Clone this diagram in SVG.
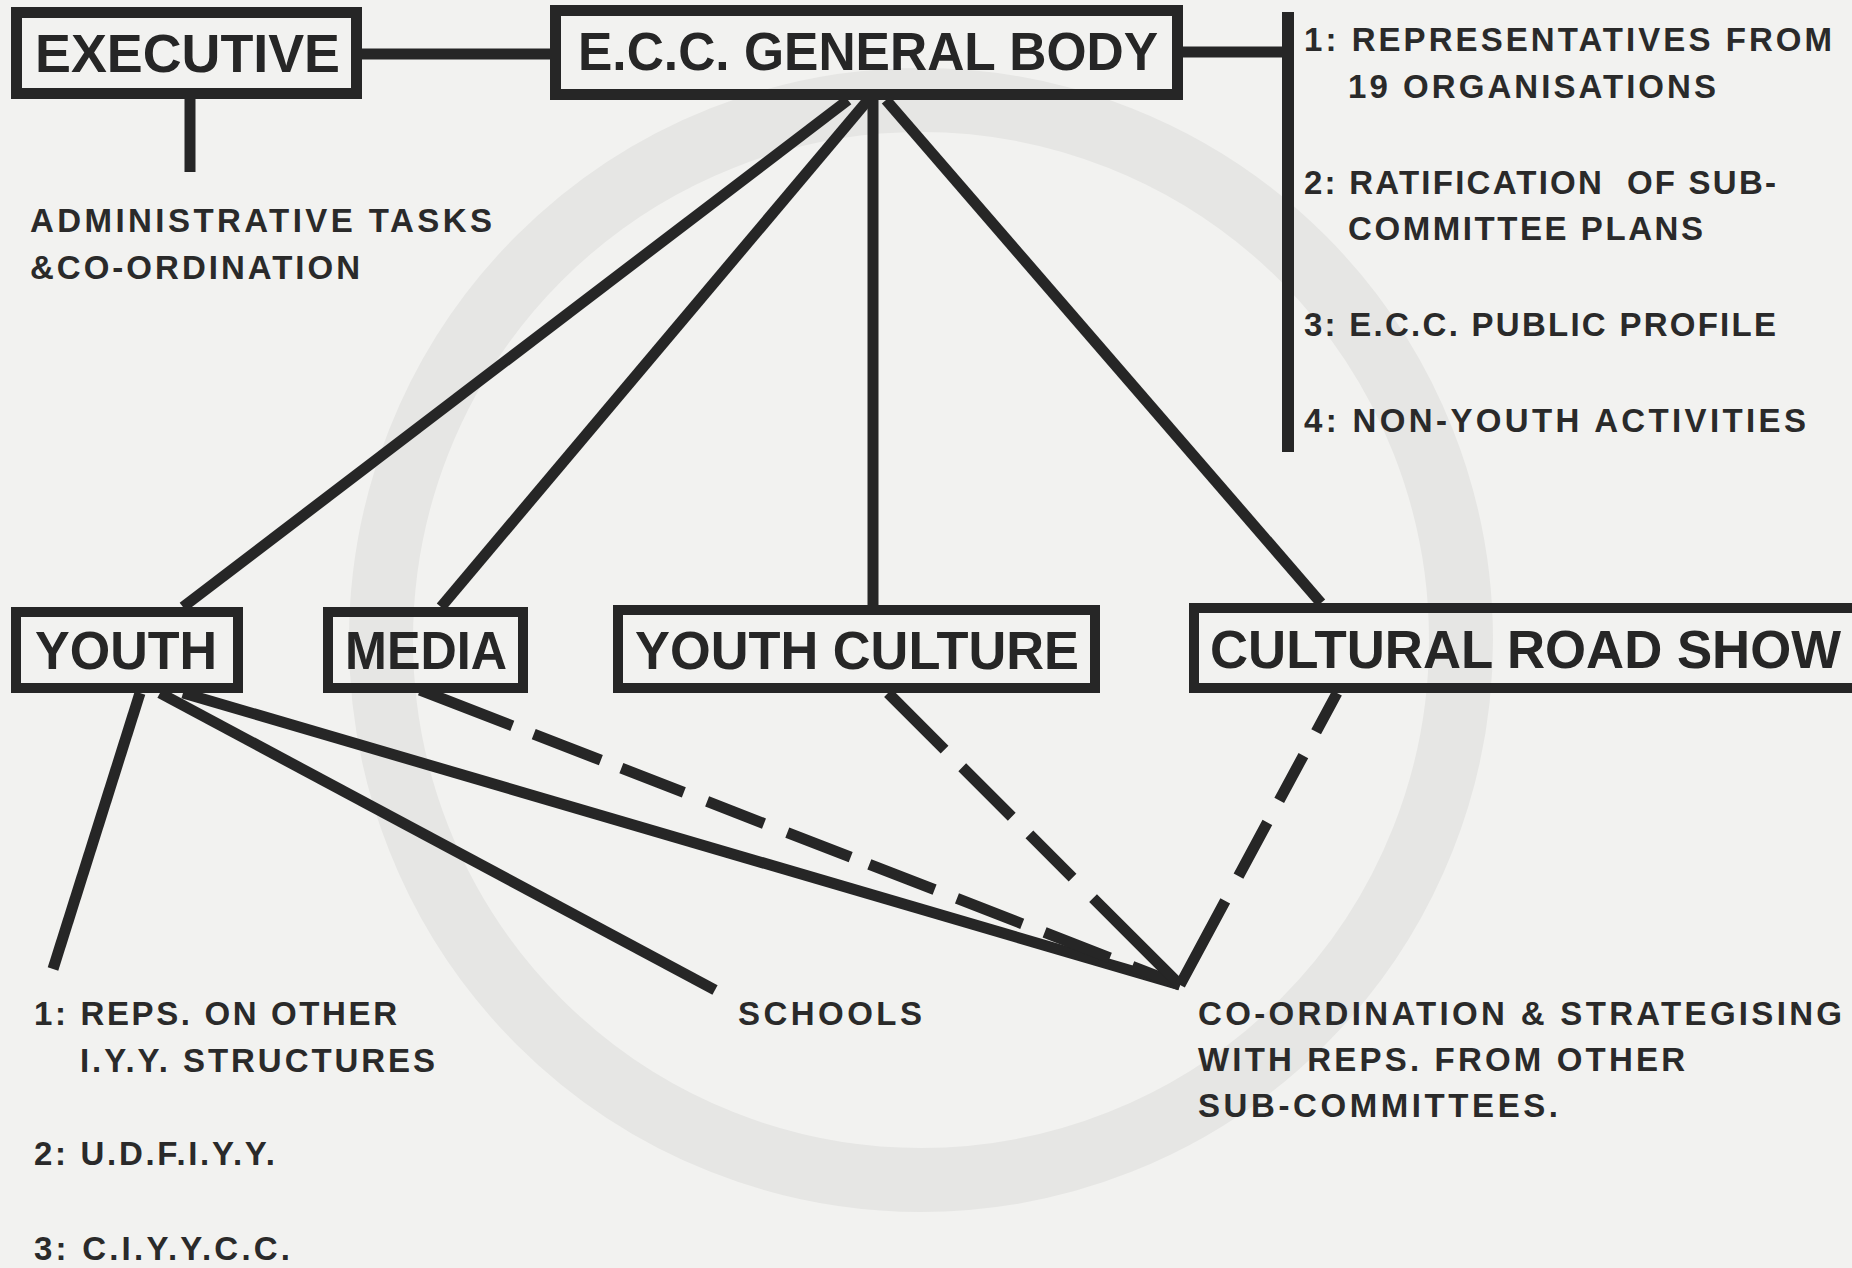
<svg xmlns="http://www.w3.org/2000/svg" width="1852" height="1268" viewBox="0 0 1852 1268">
  <style>
    .box { fill: none; stroke: #262626; stroke-width: 11; }
    .big { font-family: "Liberation Sans", Arial, sans-serif; font-weight: bold; font-size: 53px; fill: #262626; }
    .small { font-family: "Liberation Sans", Arial, sans-serif; font-weight: bold; font-size: 33px; fill: #2a2a2a; }
    .con { stroke: #262626; stroke-width: 11; fill: none; stroke-linecap: butt; }
  </style>
  <rect x="0" y="0" width="1852" height="1268" fill="#f2f2f0"/>
  <g id="watermark" fill="none">
    <circle cx="921" cy="640" r="540" stroke="#e6e6e4" stroke-width="64"/>
  </g>

  <g id="connectors">
    <line class="con" x1="362" y1="54" x2="550" y2="54"/>
    <line class="con" x1="190" y1="99" x2="190" y2="172"/>
    <line class="con" x1="1183" y1="52" x2="1288" y2="52"/>
    <line class="con" x1="1288" y1="12" x2="1288" y2="452" style="stroke-width:12"/>
    <line class="con" x1="848" y1="100" x2="183" y2="607"/>
    <line class="con" x1="868" y1="100" x2="441" y2="607"/>
    <line class="con" x1="873" y1="100" x2="873" y2="605"/>
    <line class="con" x1="886" y1="100" x2="1321" y2="603"/>
    <line class="con" x1="140" y1="693" x2="53" y2="969"/>
    <line class="con" x1="160" y1="693" x2="715" y2="990"/>
    <line class="con" x1="183" y1="693" x2="1180" y2="985"/>
    <line class="con" x1="420" y1="690" x2="1180" y2="985" stroke-dasharray="99 23 72 22 67 25 61 25 68 20 70 24 70 24 70 24 80"/>
    <line class="con" x1="888" y1="693" x2="1180" y2="985" stroke-dasharray="80 25 70 25 61 29 140"/>
    <line class="con" x1="1337" y1="693" x2="1180" y2="985" stroke-dasharray="44 27 51 25 61 28 110"/>
  </g>

  <g id="executive">
    <rect class="box" x="16.5" y="12.5" width="340" height="81"/>
    <text class="big" x="35" y="72" textLength="305" lengthAdjust="spacingAndGlyphs">EXECUTIVE</text>
  </g>
  <g id="general-body">
    <rect class="box" x="555.5" y="10.5" width="622" height="84"/>
    <text class="big" x="578" y="70" textLength="580" lengthAdjust="spacingAndGlyphs">E.C.C. GENERAL BODY</text>
  </g>
  <g id="admin-tasks">
    <text class="small" x="30" y="232" textLength="462">ADMINISTRATIVE TASKS</text>
    <text class="small" x="30" y="279" textLength="330">&amp;CO-ORDINATION</text>
  </g>
  <g id="general-body-roles">
    <text class="small" x="1304" y="51" textLength="528">1: REPRESENTATIVES FROM</text>
    <text class="small" x="1348" y="98" textLength="368">19 ORGANISATIONS</text>
    <text class="small" x="1304" y="194" textLength="472" xml:space="preserve">2: RATIFICATION  OF SUB-</text>
    <text class="small" x="1348" y="240" textLength="355">COMMITTEE PLANS</text>
    <text class="small" x="1304" y="336" textLength="472">3: E.C.C. PUBLIC PROFILE</text>
    <text class="small" x="1304" y="432" textLength="502">4: NON-YOUTH ACTIVITIES</text>
  </g>
  <g id="youth">
    <rect class="box" x="16" y="612" width="222" height="76" style="stroke-width:10"/>
    <text class="big" x="35" y="669" textLength="182" lengthAdjust="spacingAndGlyphs">YOUTH</text>
  </g>
  <g id="media">
    <rect class="box" x="328" y="612" width="195" height="76" style="stroke-width:10"/>
    <text class="big" x="345" y="669" textLength="162" lengthAdjust="spacingAndGlyphs">MEDIA</text>
  </g>
  <g id="youth-culture">
    <rect class="box" x="618" y="610" width="477" height="78" style="stroke-width:10"/>
    <text class="big" x="635" y="669" textLength="444" lengthAdjust="spacingAndGlyphs">YOUTH CULTURE</text>
  </g>
  <g id="cultural-road-show">
    <rect class="box" x="1194" y="608" width="720" height="80" style="stroke-width:10"/>
    <text class="big" x="1210" y="668" textLength="631" lengthAdjust="spacingAndGlyphs">CULTURAL ROAD SHOW</text>
  </g>
  <g id="youth-reps">
    <text class="small" x="34" y="1025" textLength="363">1: REPS. ON OTHER</text>
    <text class="small" x="80" y="1072" textLength="355">I.Y.Y. STRUCTURES</text>
    <text class="small" x="34" y="1165" textLength="241">2: U.D.F.I.Y.Y.</text>
    <text class="small" x="34" y="1260" textLength="256">3: C.I.Y.Y.C.C.</text>
  </g>
  <g id="schools">
    <text class="small" x="738" y="1025" textLength="184">SCHOOLS</text>
  </g>
  <g id="coordination">
    <text class="small" x="1198" y="1025" textLength="644">CO-ORDINATION &amp; STRATEGISING</text>
    <text class="small" x="1198" y="1071" textLength="487">WITH REPS. FROM OTHER</text>
    <text class="small" x="1198" y="1117" textLength="360">SUB-COMMITTEES.</text>
  </g>
</svg>
